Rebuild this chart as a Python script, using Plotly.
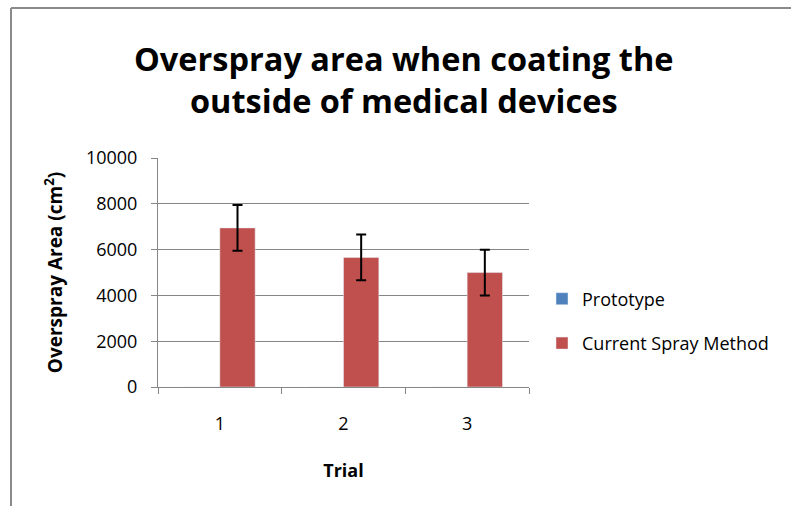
import plotly.graph_objects as go

trials = ["1", "2", "3"]
prototype = [0, 0, 0]
current = [6950, 5660, 5000]
current_err = [1000, 1000, 1000]
y_ticks = [0, 2000, 4000, 6000, 8000, 10000]
y_labels = ["0", "2000", "4000", "6000", "8000", "10000"]

FONT = "'Open Sans', Lato, sans-serif"
GRAY = "#868686"

fig = go.Figure()
fig.add_trace(go.Bar(x=trials, y=prototype, name="Prototype",
                     marker=dict(color="#4F81BD"), legendgroup="a"))
fig.add_trace(go.Bar(x=trials, y=current, name="Current Spray Method",
                     marker=dict(color="#C0504D"), legendgroup="b",
                     error_y=dict(type="data", array=current_err, visible=True,
                                  color="black", thickness=2, width=5)))

W, H = 791, 506
L, R, T, B = 158, 529, 158, 387

def px(x):
    return (x - L) / (R - L)

def py(y):
    return (B - y) / (B - T)

fig.update_layout(
    width=W, height=H,
    margin=dict(l=L, r=W - R, t=T, b=H - B),
    paper_bgcolor="white", plot_bgcolor="white",
    barmode="group", bargap=1.5 / 3.5, bargroupgap=0,
    font=dict(family=FONT, color="black", size=17),
    showlegend=True,
    legend=dict(x=px(542), y=py(321), xanchor="left", yanchor="middle",
                font=dict(size=18, color="black"), tracegroupgap=18,
                traceorder="grouped", bgcolor="rgba(0,0,0,0)"),
    annotations=[dict(text="<b>Overspray area when coating the<br>outside of medical devices</b>",
                      x=px(404), y=py(79), xref="paper", yref="paper",
                      xanchor="center", yanchor="middle", showarrow=False,
                      font=dict(size=32.5, family=FONT, color="black"))],
    shapes=[
        dict(type="line", xref="paper", yref="paper", x0=px(11), x1=px(11),
             y0=py(8), y1=py(520), line=dict(color="#8a8a8a", width=2)),
        dict(type="line", xref="paper", yref="paper", x0=px(11), x1=px(800),
             y0=py(8), y1=py(8), line=dict(color="#8a8a8a", width=2)),
    ],
)

fig.update_xaxes(
    type="category", tickson="boundaries", ticks="outside", ticklen=6,
    tickcolor=GRAY, showline=True, linecolor=GRAY, linewidth=1,
    showgrid=False, tickfont=dict(size=18), ticklabelstandoff=20,
    title=dict(text="<b>Trial</b>", font=dict(size=18), standoff=30),
)
fig.update_yaxes(
    range=[0, 10004], tickvals=y_ticks, ticktext=y_labels, ticks="outside", ticklen=6,
    tickcolor=GRAY, showline=True, linecolor=GRAY, linewidth=1,
    showgrid=True, gridcolor=GRAY, gridwidth=1, zeroline=False,
    tickfont=dict(size=18), ticklabelstandoff=10,
    title=dict(text="<b>Overspray Area (cm<sup>2</sup>)</b>", font=dict(size=19), standoff=18),
)

fig.write_html("out.html", config={"displayModeBar": False},
               post_script="document.body.style.margin='0';")
